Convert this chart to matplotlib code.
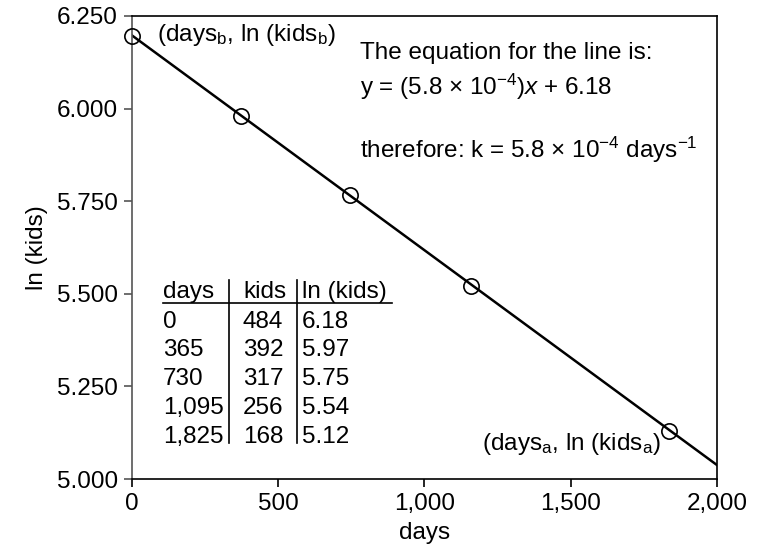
import matplotlib
matplotlib.use("Agg")
import matplotlib.pyplot as plt
from matplotlib.ticker import FuncFormatter

plt.rcParams['font.family'] = ['Liberation Sans', 'DejaVu Sans']
plt.rcParams['mathtext.fontset'] = 'custom'
plt.rcParams['mathtext.rm'] = 'Liberation Sans'
plt.rcParams['mathtext.it'] = 'Liberation Sans:italic'
plt.rcParams['mathtext.bf'] = 'Liberation Sans:bold'

# points
pt_days = [0, 375, 745, 1160, 1835]
pt_ln = [6.196, 5.980, 5.766, 5.521, 5.130]

# fitted line
line_days = [0, 2000]
line_ln = [6.198, 5.038]

# table
tbl_header = ["days", "kids", "ln (kids)"]
tbl_days = ["0", "365", "730", "1,095", "1,825"]
tbl_kids = ["484", "392", "317", "256", "168"]
tbl_ln = ["6.18", "5.97", "5.75", "5.54", "5.12"]

xticks = [0, 500, 1000, 1500, 2000]
yticks = [5.0, 5.25, 5.5, 5.75, 6.0, 6.25]

fs = 17.5

fig = plt.figure(figsize=(7.57, 5.5), dpi=100)
ax = fig.add_axes([0.174, 0.129, 0.773, 0.842])

ax.plot(line_days, line_ln, color='black', lw=1.8, zorder=2)
ax.plot(pt_days, pt_ln, 'o', mfc='none', mec='black', ms=11, mew=1.2, zorder=3, clip_on=False)

ax.set_xlim(0, 2000)
ax.set_ylim(5.0, 6.25)
ax.set_xticks(xticks)
ax.set_yticks(yticks)
ax.xaxis.set_major_formatter(FuncFormatter(lambda v, p: f'{v:,.0f}'))
ax.yaxis.set_major_formatter(FuncFormatter(lambda v, p: f'{v:.3f}'))
ax.tick_params(direction='out', length=6, width=1.2, labelsize=fs, pad=4)
for s in ax.spines.values():
    s.set_linewidth(1.2)
ax.spines['left'].set_color('#555555')
ax.tick_params(axis='y', color='#555555')

ax.set_xlabel('days', fontsize=fs, labelpad=5)
ax.set_ylabel('ln (kids)', fontsize=fs, labelpad=6)

# annotations
ax.text(0.043, 0.958, r'(days$_\mathregular{b}$, ln (kids$_\mathregular{b}$)', transform=ax.transAxes,
        fontsize=fs, va='center', ha='left')
ax.text(0.598, 0.076, r'(days$_\mathregular{a}$, ln (kids$_\mathregular{a}$)', transform=ax.transAxes,
        fontsize=fs, va='center', ha='left')
ax.text(0.39, 0.919, 'The equation for the line is:', transform=ax.transAxes,
        fontsize=fs, va='center', ha='left')
ax.text(0.39, 0.847, r'y = (5.8 × 10$^\mathregular{-4}$)$x$ + 6.18', transform=ax.transAxes,
        fontsize=fs, va='center', ha='left')
ax.text(0.39, 0.710, r'therefore: k = 5.8 × 10$^\mathregular{-4}$ days$^\mathregular{-1}$', transform=ax.transAxes,
        fontsize=fs, va='center', ha='left')

# table drawn as text
col_x = [0.0535, 0.190, 0.291]
row_y = [0.404, 0.339, 0.278, 0.216, 0.153, 0.091]
for cx, h in zip(col_x, tbl_header):
    ax.text(cx, row_y[0], h, transform=ax.transAxes, fontsize=fs, va='center', ha='left')
for i in range(len(tbl_days)):
    for cx, col in zip(col_x, [tbl_days, tbl_kids, tbl_ln]):
        ax.text(cx, row_y[i + 1], col[i], transform=ax.transAxes, fontsize=fs, va='center', ha='left')
ax.plot([0.0535, 0.445], [0.380, 0.380], color='black', lw=1.2, transform=ax.transAxes)
for vx in [0.166, 0.2825]:
    ax.plot([vx, vx], [0.078, 0.430], color='black', lw=1.2, transform=ax.transAxes)

fig.savefig('out.png', dpi=100)
